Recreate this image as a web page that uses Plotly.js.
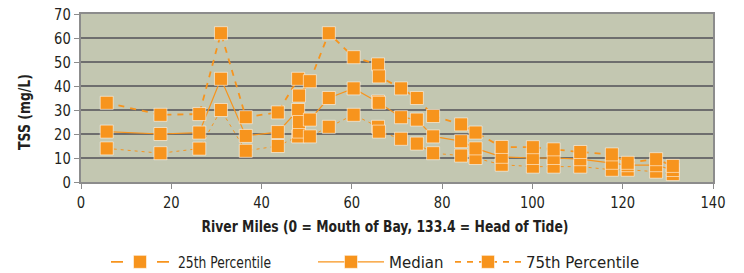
<!DOCTYPE html>
<html>
<head>
<meta charset="utf-8">
<script src="https://cdn.plot.ly/plotly-3.0.1.min.js"></script>
<style>
  html, body { margin: 0; padding: 0; background: #ffffff; }
  #chart { width: 744px; height: 273px; }
</style>
</head>
<body>
<div id="chart"></div>
<script>
// River mile of each sampling site
const riverMiles = [5.7, 17.6, 26.2, 31.0, 36.5, 43.6, 48.1, 48.3, 50.7, 54.9, 60.4, 65.8, 66.0, 70.9, 74.4, 78.0, 84.2, 87.4, 93.2, 100.1, 104.7, 110.6, 117.6, 121.1, 127.4, 131.1];
// TSS (mg/L)
const p25 = [14, 12, 13.9, 30, 13, 15, 19, 21, 19, 23, 28, 23, 21, 18, 16, 12, 11, 10, 7.2, 6.4, 6.4, 6.4, 5.1, 5.1, 4.3, 3.3];
const median = [21, 20, 20.6, 43, 19.2, 20.8, 30, 25, 26, 35, 39, 33.5, 33, 27, 26, 19, 17, 14, 10.5, 10, 10, 9.5, 8, 7, 7, 5];
const p75 = [33, 28, 28.3, 62, 27, 29, 43, 36, 42, 62, 52, 49, 44, 39, 35, 27.5, 24, 20.6, 14.6, 14.5, 13.6, 12.5, 11.5, 8, 9.5, 6.7];
const seriesNames = ["25th Percentile", "Median", "75th Percentile"];
const xTitle = "River Miles (0 = Mouth of Bay, 133.4 = Head of Tide)";
const yTitle = "TSS (mg/L)";

const orange = "#F7941D";
const font = "'DejaVu Sans', sans-serif";
const mk = { symbol: "square", size: 13, color: orange, line: { color: "rgba(255,255,255,0.55)", width: 1 } };

const traces = [
  { x: riverMiles, y: p25, name: seriesNames[0], mode: "lines+markers", type: "scatter", legend: "legend",
    line: { color: orange, width: 1, dash: "3px,4px" }, marker: mk },
  { x: riverMiles, y: median, name: seriesNames[1], mode: "lines+markers", type: "scatter", legend: "legend2",
    line: { color: orange, width: 1.2 }, marker: mk },
  { x: riverMiles, y: p75, name: seriesNames[2], mode: "lines+markers", type: "scatter", legend: "legend3",
    line: { color: orange, width: 1.8, dash: "6px,6px" }, marker: mk }
];

function leg(xpx) {
  return {
    orientation: "h", xref: "container", x: xpx / 744, xanchor: "left",
    yref: "container", y: 0.04, yanchor: "middle",
    itemwidth: 66,
    font: { family: font, size: 15, color: "#231F20" },
    bgcolor: "rgba(0,0,0,0)"
  };
}

const layout = {
  width: 744, height: 273,
  margin: { l: 81, r: 31, t: 14, b: 91 },
  paper_bgcolor: "#ffffff",
  plot_bgcolor: "#C3C7B1",
  font: { family: font, color: "#231F20", size: 15 },
  showlegend: true,
  legend: leg(102),
  legend2: leg(313),
  legend3: leg(450),
  xaxis: {
    range: [0, 140], dtick: 20, tick0: 0,
    showgrid: false, zeroline: false,
    showline: true, linecolor: "#8C8C8C", linewidth: 2, mirror: true,
    ticks: "outside", ticklen: 5, tickcolor: "#8C8C8C", tickwidth: 1,
    tickfont: { family: font, size: 16, color: "#231F20" },
    title: { text: xTitle, font: { family: font, size: 16, color: "#231F20", weight: "bold" }, standoff: 10 }
  },
  yaxis: {
    range: [0, 70], dtick: 10, tick0: 0,
    showgrid: true, gridcolor: "#6E6E6E", gridwidth: 1.5,
    zeroline: false,
    showline: true, linecolor: "#8C8C8C", linewidth: 2, mirror: true,
    ticks: "outside", ticklen: 5, tickcolor: "#8C8C8C", tickwidth: 1,
    tickfont: { family: font, size: 16, color: "#231F20" },
    title: { text: yTitle, font: { family: font, size: 16, color: "#231F20", weight: "bold" }, standoff: 16 }
  }
};

function squeeze(t, target) {
  t.setAttribute("textLength", target.toFixed(1));
  t.setAttribute("lengthAdjust", "spacingAndGlyphs");
}
function condense(selector, factor) {
  document.querySelectorAll(selector).forEach(function (t) {
    try {
      if (t.hasAttribute("textLength")) return;
      const len = t.getComputedTextLength();
      if (len > 0) squeeze(t, len * factor);
    } catch (e) {}
  });
}
function shiftOnce(t, dx, dy) {
  if (t.getAttribute("data-shifted")) return;
  const tr = t.getAttribute("transform") || "";
  t.setAttribute("transform", "translate(" + dx + "," + dy + ") " + tr);
  t.setAttribute("data-shifted", "1");
}

// legend symbol styling, in the same order as seriesNames: half-length, stroke width, dasharray
const legendHalf = [29, 31, 30];
const legendStroke = [1.6, 2.2, 3.5];
const legendDash = ["12,34", "none", "10,40"];
const legendTextWidth = [93, 45, 94];

function styleLegendItem(t) {
  const name = (t.textContent || "").trim();
  let i = -1;
  for (let k = 0; k < seriesNames.length; k++) {
    if (name.indexOf(seriesNames[k]) >= 0) { i = k; break; }
  }
  if (i < 0) return;
  squeeze(t, legendTextWidth[i]);
  const g = t.parentNode;
  if (!g) return;
  let cx = 20;
  const pt = g.querySelector(".legendpoints path");
  if (pt) {
    const m = /translate\(\s*([-\d.]+)/.exec(pt.getAttribute("transform") || "");
    if (m) cx = parseFloat(m[1]);
  }
  const paths = g.querySelectorAll(".legendlines path");
  for (let j = 0; j < paths.length; j++) {
    const p = paths[j];
    p.setAttribute("d", "M" + (cx - legendHalf[i]) + ",0h" + (2 * legendHalf[i]));
    p.setAttribute("stroke-width", legendStroke[i]);
    p.setAttribute("stroke-dasharray", legendDash[i]);
    try {
      p.style.setProperty("stroke-width", legendStroke[i] + "px", "important");
      p.style.setProperty("stroke-dasharray", legendDash[i], "important");
    } catch (e) {}
  }
}

function finish() {
  condense("#chart .xtick text, #chart .ytick text", 0.82);
  try {
    const xt = document.querySelector("#chart .g-xtitle text");
    if (xt) { squeeze(xt, 367); shiftOnce(xt, -12, 0); }
    const yt = document.querySelector("#chart .g-ytitle text");
    if (yt) { squeeze(yt, 76); shiftOnce(yt, 0, 14); }
  } catch (e) {}
  const texts = document.querySelectorAll("#chart .legendtext");
  for (let n = 0; n < texts.length; n++) {
    try { styleLegendItem(texts[n]); } catch (e) {}
  }
}

const gd = document.getElementById("chart");
Plotly.newPlot(gd, traces, layout, { displayModeBar: false, staticPlot: true }).then(function () {
  finish();
  try { gd.on("plotly_afterplot", finish); } catch (e) {}
  let count = 0;
  const timer = setInterval(function () {
    finish();
    if (++count > 40) clearInterval(timer);
  }, 25);
});
</script>
</body>
</html>
